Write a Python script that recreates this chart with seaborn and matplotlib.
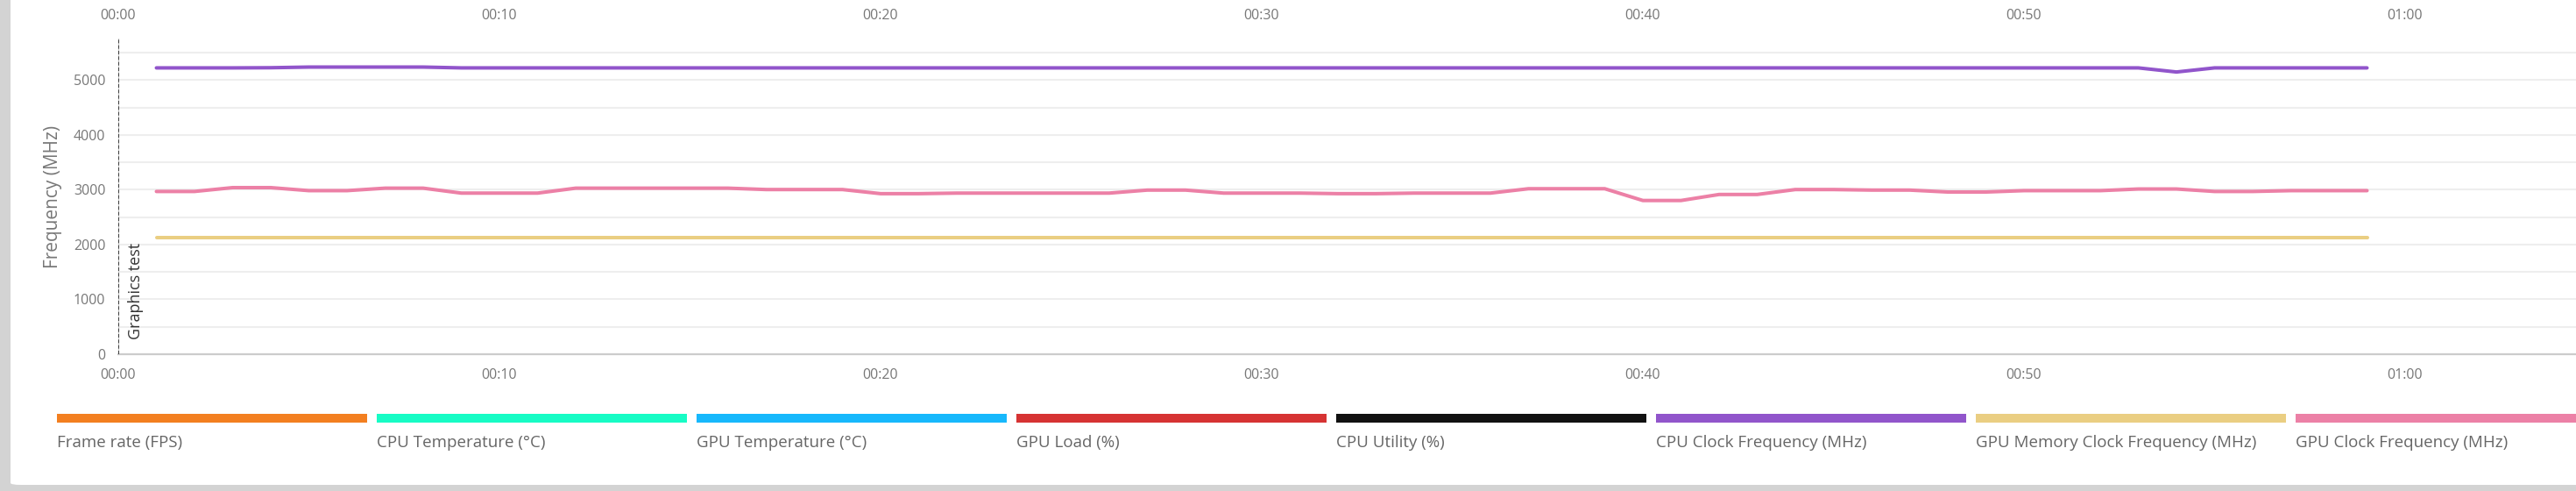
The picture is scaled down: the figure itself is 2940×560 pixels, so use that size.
import pandas as pd
import matplotlib.pyplot as plt
import matplotlib.patches as mpatches
import seaborn as sns

# seconds since start of the run
seconds = list(range(1, 60))

cpu_clock = [5225, 5225, 5225, 5228, 5240, 5240, 5240, 5240, 5225, 5225,
             5225, 5225, 5225, 5225, 5225, 5225, 5225, 5225, 5225, 5225,
             5225, 5225, 5225, 5225, 5225, 5225, 5225, 5225, 5225, 5225,
             5225, 5225, 5225, 5225, 5225, 5225, 5225, 5225, 5225, 5225,
             5225, 5225, 5225, 5225, 5225, 5225, 5225, 5225, 5225, 5225,
             5225, 5225, 5225, 5150, 5225, 5225, 5225, 5225, 5225]

gpu_mem_clock = [2127] * 59

gpu_clock = [2970, 2970, 3040, 3040, 2985, 2985, 3030, 3030, 2940, 2940,
             2940, 3030, 3030, 3030, 3030, 3030, 3005, 3005, 3005, 2930,
             2930, 2940, 2940, 2940, 2940, 2940, 2995, 2995, 2940, 2940,
             2940, 2930, 2930, 2940, 2940, 2940, 3020, 3020, 3020, 2805,
             2805, 2915, 2915, 3005, 3005, 2995, 2995, 2960, 2960, 2985,
             2985, 2985, 3015, 3015, 2970, 2970, 2985, 2985, 2985]

legend_labels = ['Frame rate (FPS)', 'CPU Temperature (°C)', 'GPU Temperature (°C)',
                 'GPU Load (%)', 'CPU Utility (%)', 'CPU Clock Frequency (MHz)',
                 'GPU Memory Clock Frequency (MHz)', 'GPU Clock Frequency (MHz)']
legend_colors = ['#F37F20', '#17FCC5', '#17B8FC', '#D63333', '#111111',
                 '#9155CB', '#EACE82', '#EC80A6']

marker_label = 'Graphics test'
marker_time = 0

x_ticks = [0, 10, 20, 30, 40, 50, 60]
x_tick_labels = ['00:00', '00:10', '00:20', '00:30', '00:40', '00:50', '01:00']
y_ticks = [0, 1000, 2000, 3000, 4000, 5000]

df = pd.DataFrame({
    'time': seconds * 3,
    'value': cpu_clock + gpu_mem_clock + gpu_clock,
    'series': (['CPU Clock Frequency (MHz)'] * 59
               + ['GPU Memory Clock Frequency (MHz)'] * 59
               + ['GPU Clock Frequency (MHz)'] * 59),
})
palette = dict(zip(legend_labels, legend_colors))

sns.set_style('white')
plt.rcParams['font.family'] = ['Open Sans', 'DejaVu Sans']

W, H = 2940, 560
fig = plt.figure(figsize=(W / 100, H / 100), dpi=100)
fig.patch.set_facecolor('#d3d3d3')

# white card
card = mpatches.FancyBboxPatch((12 / W, 7 / H), 3.0, 2.0,
                               boxstyle='round,pad=0,rounding_size=0.004',
                               transform=fig.transFigure, facecolor='white',
                               edgecolor='none', zorder=-10)
fig.patches.append(card)

left_px, bottom_px, top_px = 135, 404, 44.3
ax = fig.add_axes([left_px / W, (H - bottom_px) / H, 1 - left_px / W,
                   (bottom_px - top_px) / H])
ax.set_facecolor('none')

sns.lineplot(data=df, x='time', y='value', hue='series', palette=palette,
             linewidth=2.9, legend=False, ax=ax, zorder=3)

ax.set_xlim(0, (W - left_px) / 43.5)
ax.set_ylim(0, 5755)
ax.set_xticks(x_ticks)
ax.set_xticklabels(x_tick_labels)
ax.set_yticks(y_ticks)
ax.set_yticks([500, 1500, 2500, 3500, 4500, 5500], minor=True)
ax.grid(True, which='both', axis='y', color='#eeeeee', linewidth=1.5)
ax.set_axisbelow(True)
ax.set_xlabel('')
ax.set_ylabel('Frequency (MHz)', fontsize=15, color='#777777', labelpad=9)

for s in ['top', 'right']:
    ax.spines[s].set_visible(False)
ax.spines['bottom'].set_color('#cccccc')
ax.spines['bottom'].set_linewidth(1.6)
ax.spines['left'].set_color('#cccccc')

ax.tick_params(axis='x', length=7.5, width=1.4, color='#aaaaaa', pad=4,
               labelsize=11.5, labelcolor='#777777')
ax.tick_params(axis='y', which='major', length=7.5, width=1.4, color='#aaaaaa',
               pad=3, labelsize=11.5, labelcolor='#777777')
ax.tick_params(axis='y', which='minor', length=0)

# event marker
ax.axvline(marker_time, color='#222222', linewidth=1.2, dashes=(2.4, 1.4), zorder=4)
ax.text(marker_time + 0.25, 270, marker_label, rotation=90, ha='left', va='bottom',
        fontsize=13, color='#333333')

# duplicate time axis above the plot
ax_top = fig.add_axes([left_px / W, 1 + 8 / H, 1 - left_px / W, 0.0001], sharex=ax)
ax_top.set_facecolor('none')
for s in ax_top.spines.values():
    s.set_visible(False)
ax_top.set_yticks([])
ax_top.tick_params(axis='x', direction='out', length=8, width=1.4, color='#aaaaaa',
                   pad=5, labelsize=11.5, labelcolor='#777777', labelbottom=True)

# legend strip
pitch, bar_w = 365, 354
for i, (lab, col) in enumerate(zip(legend_labels, legend_colors)):
    x0 = 65 + i * pitch
    fig.patches.append(mpatches.Rectangle((x0 / W, (H - 482) / H), bar_w / W, 10 / H,
                                          transform=fig.transFigure, facecolor=col,
                                          edgecolor='none', zorder=1))
    fig.text(x0 / W, (H - 505) / H, lab, ha='left', va='center', fontsize=13.5,
             color='#666666')

fig.savefig('out.png', dpi=100, facecolor=fig.get_facecolor())
